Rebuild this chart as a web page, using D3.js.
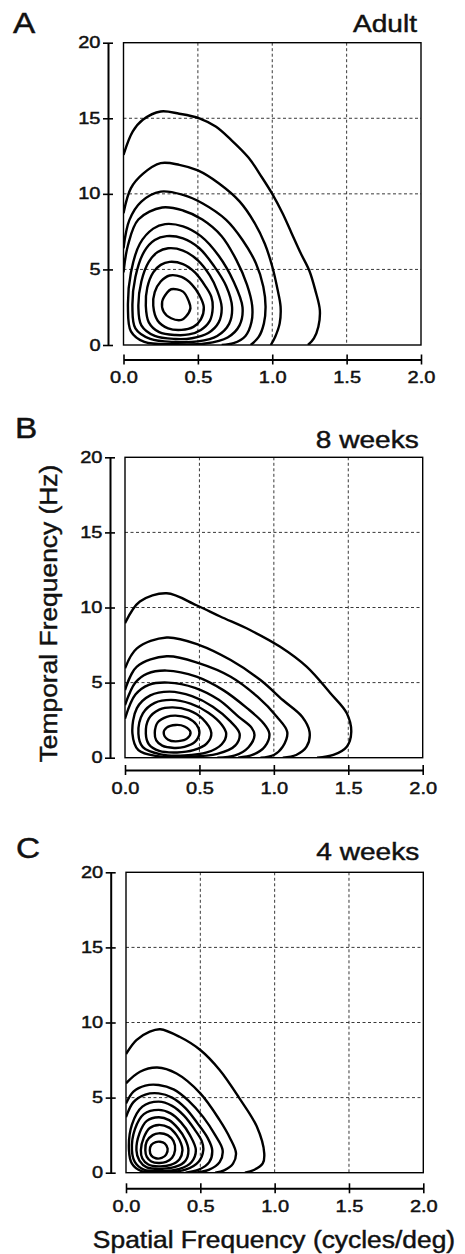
<!DOCTYPE html>
<html>
<head>
<meta charset="utf-8">
<script src="https://cdn.jsdelivr.net/npm/d3@7"></script>
<style>
  body { margin: 0; background: #fff; }
  svg { display: block; }
  text { font-family: "Liberation Sans", Arial, Helvetica, sans-serif; fill: #111; stroke: #111; stroke-width: 0.45px; }
</style>
</head>
<body>
<div id="chart"></div>
<script>
// ---- data: [spatial freq (c/deg), temporal freq (Hz)] ----
var xTicks = [0, 0.5, 1.0, 1.5, 2.0];
var yTicks = [0, 5, 10, 15, 20];
var panelLetters = ["A", "B", "C"];
var panelTitles = ["Adult", "8 weeks", "4 weeks"];
var yTitle = "Temporal Frequency (Hz)";
var xTitle = "Spatial Frequency (cycles/deg)";

// outer contours run from the left edge down to the bottom edge
var adultOpen = [
  [[0,12.58],[0.0625,14.13],[0.13,14.9],[0.25,15.45],[0.375,15.3],[0.51,15.0],[0.62,14.45],[0.72,13.6],[0.84,12.4],[0.93,11.1],[1.0,10.0],[1.07,8.7],[1.13,7.4],[1.19,6.1],[1.25,4.9],[1.29,3.6],[1.32,2.3],[1.31,1.21],[1.28,0.44],[1.24,0]],
  [[0,8.72],[0.05,10.38],[0.13,11.32],[0.25,12.03],[0.375,11.92],[0.5,11.55],[0.64,10.7],[0.78,9.5],[0.88,8.1],[0.95,6.7],[1.0,5.19],[1.035,3.7],[1.056,2.54],[1.05,1.43],[1.02,0.55],[0.99,0]],
  [[0,6.4],[0.04,8.28],[0.12,9.49],[0.25,10.15],[0.4,9.93],[0.53,9.38],[0.69,8.28],[0.8,6.95],[0.89,5.41],[0.94,3.86],[0.955,2.54],[0.944,1.43],[0.91,0.55],[0.855,0]],
  [[0,4.8],[0.03,6.6],[0.1,8.3],[0.26,9.1],[0.4,8.9],[0.53,8.3],[0.66,7.2],[0.76,5.6],[0.83,4.0],[0.865,2.6],[0.86,1.5],[0.82,0.6],[0.74,0.12],[0.66,0]]
];
// inner contours are closed rings
var adultRings = [
  [[0.03,2.5],[0.05,4.8],[0.11,6.7],[0.2,7.7],[0.28,8.0],[0.4,7.85],[0.52,7.2],[0.64,5.9],[0.74,4.2],[0.8,2.5],[0.78,1.3],[0.7,0.5],[0.55,0.1],[0.35,0.05],[0.14,0.2],[0.05,0.9]],
  [[0.06,2.5],[0.08,4.5],[0.14,6.2],[0.21,6.95],[0.29,7.2],[0.4,7.05],[0.51,6.4],[0.61,5.2],[0.69,3.9],[0.73,2.5],[0.71,1.4],[0.63,0.6],[0.5,0.24],[0.35,0.2],[0.18,0.4],[0.08,1.1]],
  [[0.1,2.5],[0.12,4.2],[0.17,5.5],[0.23,6.15],[0.3,6.4],[0.4,6.25],[0.5,5.6],[0.58,4.6],[0.63,3.6],[0.66,2.5],[0.64,1.5],[0.57,0.8],[0.46,0.45],[0.35,0.4],[0.21,0.6],[0.12,1.3]],
  [[0.15,2.6],[0.16,3.8],[0.2,4.8],[0.25,5.3],[0.31,5.5],[0.4,5.35],[0.48,4.8],[0.55,3.9],[0.59,3.2],[0.6,2.5],[0.58,1.6],[0.52,1.0],[0.44,0.7],[0.35,0.66],[0.24,0.85],[0.17,1.5]],
  [[0.2,2.6],[0.21,3.5],[0.25,4.2],[0.31,4.6],[0.39,4.5],[0.46,4.0],[0.51,3.3],[0.54,2.5],[0.52,1.7],[0.47,1.2],[0.39,1.0],[0.3,1.1],[0.23,1.6]],
  [[0.32,3.69],[0.4,3.53],[0.44,2.87],[0.45,2.43],[0.42,1.88],[0.39,1.66],[0.32,1.77],[0.27,2.2],[0.26,2.87],[0.29,3.42]]
];

var week8Open = [
  [[0,8.95],[0.1,10.4],[0.28,10.95],[0.48,10.15],[0.64,9.4],[0.84,8.5],[1.04,7.4],[1.22,6.06],[1.38,4.29],[1.49,2.96],[1.52,1.71],[1.49,0.73],[1.4,0.18],[1.29,0]],
  [[0,5.95],[0.08,7.28],[0.28,8.0],[0.5,7.5],[0.71,6.5],[0.91,5.17],[1.06,3.84],[1.19,2.73],[1.24,1.71],[1.22,0.73],[1.15,0.18],[1.06,0]],
  [[0,4.5],[0.08,6.06],[0.28,6.75],[0.5,6.28],[0.71,5.39],[0.89,4.06],[1.02,2.73],[1.09,1.71],[1.06,0.73],[1.0,0.18],[0.91,0]],
  [[0,3.5],[0.07,5.0],[0.15,5.6],[0.28,5.8],[0.48,5.4],[0.66,4.5],[0.82,3.3],[0.93,2.3],[0.97,1.6],[0.94,0.75],[0.86,0.2],[0.76,0]],
  [[0,2.6],[0.07,4.2],[0.16,4.85],[0.29,5.0],[0.47,4.65],[0.63,3.85],[0.76,2.75],[0.85,2.0],[0.87,1.5],[0.83,0.7],[0.74,0.15],[0.62,0]]
];
var week8Rings = [
  [[0.05,1.6],[0.08,3.3],[0.17,4.15],[0.3,4.4],[0.45,4.1],[0.59,3.4],[0.71,2.4],[0.77,1.6],[0.74,0.8],[0.62,0.25],[0.42,0.06],[0.22,0.1],[0.09,0.5]],
  [[0.09,1.6],[0.12,2.95],[0.2,3.65],[0.31,3.85],[0.44,3.6],[0.56,3.0],[0.65,2.2],[0.68,1.6],[0.65,0.9],[0.55,0.35],[0.4,0.15],[0.24,0.22],[0.12,0.7]],
  [[0.14,1.6],[0.16,2.6],[0.23,3.2],[0.32,3.35],[0.43,3.15],[0.52,2.6],[0.58,1.65],[0.55,0.95],[0.46,0.5],[0.35,0.35],[0.23,0.45],[0.16,0.9]],
  [[0.2,1.65],[0.22,2.35],[0.28,2.72],[0.34,2.8],[0.42,2.65],[0.48,2.2],[0.5,1.65],[0.47,1.05],[0.4,0.72],[0.33,0.65],[0.25,0.8],[0.21,1.15]],
  [[0.26,1.65],[0.28,2.0],[0.34,2.18],[0.4,2.08],[0.44,1.7],[0.42,1.3],[0.36,1.1],[0.29,1.2]]
];

var week4Open = [
  [[0,7.9],[0.07,8.83],[0.16,9.39],[0.23,9.55],[0.36,9.05],[0.5,8.17],[0.63,6.84],[0.76,5.0],[0.88,3.07],[0.93,1.29],[0.92,0.62],[0.86,0.18],[0.8,0]],
  [[0,5.95],[0.094,6.72],[0.21,7.0],[0.34,6.6],[0.5,5.28],[0.63,3.5],[0.7,2.3],[0.74,1.3],[0.72,0.6],[0.66,0.15],[0.6,0]],
  [[0,4.6],[0.05,5.4],[0.13,5.8],[0.22,5.84],[0.32,5.55],[0.42,4.8],[0.52,3.7],[0.6,2.5],[0.65,1.5],[0.63,0.7],[0.56,0.2],[0.47,0]],
  [[0,3.7],[0.05,4.7],[0.13,5.2],[0.22,5.28],[0.31,5.0],[0.4,4.3],[0.48,3.3],[0.55,2.3],[0.58,1.5],[0.56,0.7],[0.49,0.2],[0.4,0]]
];
var week4Rings = [
  [[0.02,1.5],[0.04,3.2],[0.11,4.4],[0.22,4.73],[0.31,4.45],[0.39,3.8],[0.46,2.9],[0.51,2.1],[0.52,1.5],[0.49,0.75],[0.4,0.2],[0.25,0.03],[0.1,0.12],[0.04,0.6]],
  [[0.04,1.5],[0.06,2.9],[0.12,3.9],[0.22,4.18],[0.3,3.95],[0.37,3.35],[0.43,2.5],[0.47,1.5],[0.44,0.7],[0.36,0.25],[0.24,0.1],[0.12,0.2],[0.06,0.7]],
  [[0.07,1.5],[0.09,2.6],[0.14,3.45],[0.22,3.69],[0.29,3.5],[0.35,2.95],[0.4,2.2],[0.42,1.5],[0.4,0.8],[0.33,0.38],[0.23,0.25],[0.14,0.35],[0.09,0.8]],
  [[0.1,1.5],[0.12,2.35],[0.16,2.98],[0.22,3.18],[0.29,3.0],[0.34,2.5],[0.37,1.95],[0.38,1.5],[0.36,0.9],[0.3,0.52],[0.22,0.42],[0.15,0.55],[0.11,0.95]],
  [[0.13,1.5],[0.14,2.1],[0.18,2.5],[0.22,2.62],[0.28,2.5],[0.32,2.1],[0.33,1.5],[0.31,1.0],[0.27,0.72],[0.22,0.65],[0.17,0.75],[0.14,1.05]],
  [[0.16,1.5],[0.17,1.85],[0.2,2.04],[0.23,2.06],[0.26,1.95],[0.28,1.6],[0.27,1.2],[0.24,0.98],[0.2,0.96],[0.17,1.15]]
];

var openSets = [adultOpen, week8Open, week4Open];
var ringSets = [adultRings, week8Rings, week4Rings];

// ---- layout (pixels) ----
var svgWidth = 465;
var svgHeight = 1254;
var layout = [
  { left: 123.5, right: 421,   top: 42.7,  bottom: 345,    axisX: 108,   axisY: 359.5,  letterX: 13, letterY: 33,  titleY: 32 },
  { left: 125,   right: 422.7, top: 457.3, bottom: 757.7,  axisX: 110,   axisY: 770,    letterX: 15, letterY: 438, titleY: 448 },
  { left: 126,   right: 423.3, top: 872.3, bottom: 1172.7, axisX: 110.7, axisY: 1188.3, letterX: 16, letterY: 858, titleY: 860 }
];
var tickScale = 1.25;   // the figure's lettering is wide, so stretch it horizontally

var svg = d3.select("#chart")
  .append("svg")
  .attr("width", svgWidth)
  .attr("height", svgHeight);

layout.forEach(function(box, i) {
  var g = svg.append("g");

  var xScale = d3.scaleLinear().domain([0, 2]).range([box.left, box.right]);
  var yScale = d3.scaleLinear().domain([0, 20]).range([box.bottom, box.top]);

  // dashed grid
  g.selectAll(".vgrid")
    .data(xTicks.slice(1, -1))
    .enter()
    .append("line")
    .attr("x1", d => xScale(d)).attr("x2", d => xScale(d))
    .attr("y1", box.top).attr("y2", box.bottom)
    .attr("stroke", "#222").attr("stroke-width", 0.9)
    .attr("stroke-dasharray", "3,2.5");

  g.selectAll(".hgrid")
    .data(yTicks.slice(1, -1))
    .enter()
    .append("line")
    .attr("x1", box.left).attr("x2", box.right)
    .attr("y1", d => yScale(d)).attr("y2", d => yScale(d))
    .attr("stroke", "#222").attr("stroke-width", 0.9)
    .attr("stroke-dasharray", "3,2.5");

  // contours, clipped to the plot box
  var clipId = "clip" + i;
  svg.append("clipPath").attr("id", clipId)
    .append("rect")
    .attr("x", box.left).attr("y", box.top)
    .attr("width", box.right - box.left).attr("height", box.bottom - box.top);

  var contourGroup = g.append("g").attr("clip-path", "url(#" + clipId + ")");

  var openLine = d3.line()
    .x(d => xScale(d[0])).y(d => yScale(d[1]))
    .curve(d3.curveCatmullRom.alpha(0.5));
  var ringLine = d3.line()
    .x(d => xScale(d[0])).y(d => yScale(d[1]))
    .curve(d3.curveCatmullRomClosed.alpha(0.5));

  contourGroup.selectAll(".open")
    .data(openSets[i])
    .enter()
    .append("path")
    .attr("d", openLine)
    .attr("fill", "none").attr("stroke", "#000").attr("stroke-width", 2.4)
    .attr("stroke-linejoin", "round");

  contourGroup.selectAll(".ring")
    .data(ringSets[i])
    .enter()
    .append("path")
    .attr("d", ringLine)
    .attr("fill", "none").attr("stroke", "#000").attr("stroke-width", 2.4)
    .attr("stroke-linejoin", "round");

  // frame
  g.append("rect")
    .attr("x", box.left).attr("y", box.top)
    .attr("width", box.right - box.left).attr("height", box.bottom - box.top)
    .attr("fill", "none").attr("stroke", "#000").attr("stroke-width", 1.4);

  // offset axes
  var leftAxis = d3.axisLeft(yScale).tickValues(yTicks).tickSizeOuter(0).tickSizeInner(5);
  var bottomAxis = d3.axisBottom(xScale).tickValues(xTicks).tickSizeOuter(0).tickSizeInner(5)
    .tickFormat(d3.format(".1f"));

  var ya = g.append("g")
    .attr("transform", `translate(${box.axisX}, 0)`)
    .call(leftAxis);
  ya.select(".domain").attr("stroke-width", 2);
  ya.selectAll(".tick line").attr("x1", 5).attr("x2", -5).attr("stroke-width", 1.6);
  ya.selectAll(".tick text")
    .attr("x", -7.5 / tickScale)
    .attr("transform", `scale(${tickScale},1)`)
    .style("font-size", "16px")
    .style("font-family", "\"Liberation Sans\", Arial, sans-serif")
    .attr("fill", "#111");

  var xa = g.append("g")
    .attr("transform", `translate(0, ${box.axisY})`)
    .call(bottomAxis);
  xa.select(".domain").attr("stroke-width", 2);
  xa.selectAll(".tick line").attr("y1", -5).attr("y2", 5).attr("stroke-width", 1.6);
  xa.selectAll(".tick text")
    .attr("y", 12.5)
    .attr("transform", `scale(${tickScale},1)`)
    .style("font-size", "16px")
    .style("font-family", "\"Liberation Sans\", Arial, sans-serif")
    .attr("fill", "#111");

  // panel letter and title
  g.append("text")
    .attr("transform", `translate(${box.letterX}, ${box.letterY}) scale(1.15,1)`)
    .style("font-size", "29px")
    .text(panelLetters[i]);

  g.append("text")
    .attr("transform", `translate(${box.right - 4}, ${box.titleY}) scale(1.17,1)`)
    .attr("text-anchor", "end")
    .style("font-size", "24px")
    .text(panelTitles[i]);
});

// axis titles
svg.append("text")
  .attr("transform", "translate(57, 613.5) rotate(-90) scale(1.1,1)")
  .attr("text-anchor", "middle")
  .style("font-size", "24px")
  .text(yTitle);

svg.append("text")
  .attr("transform", "translate(274, 1248) scale(1.1,1)")
  .attr("text-anchor", "middle")
  .style("font-size", "24px")
  .text(xTitle);
</script>
</body>
</html>
